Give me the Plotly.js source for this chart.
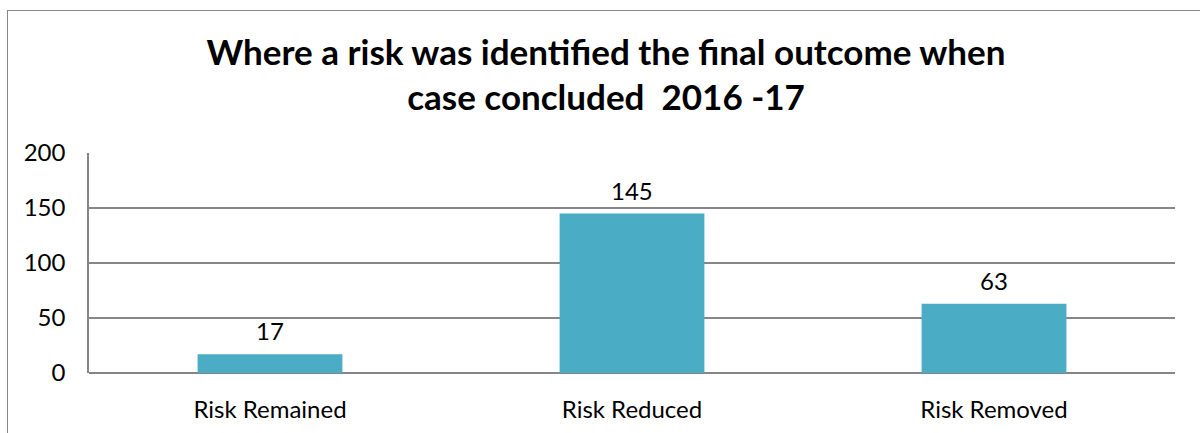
<!DOCTYPE html>
<html>
<head>
<meta charset="utf-8">
<script src="https://cdn.plot.ly/plotly-3.0.1.min.js"></script>
<style>
html,body{margin:0;padding:0;background:#fff}
#wrap{position:relative;width:1200px;height:433px;overflow:hidden}
#chart{width:1200px;height:433px}
#frame{position:absolute;left:7px;top:10px;width:1300px;height:600px;border:1.5px solid #878787;pointer-events:none;box-sizing:border-box}
</style>
</head>
<body>
<div id="wrap"><div id="chart"></div><div id="frame"></div></div>
<script>
var categories = ["Risk Remained", "Risk Reduced", "Risk Removed"];
var values = [17, 145, 63];
var yTicks = [0, 50, 100, 150, 200];

var FONT = "Lato, Calibri, 'Open Sans', sans-serif";

var trace = {
  type: "bar",
  x: categories,
  y: values,
  marker: {color: "#4BACC6"},
  hoverinfo: "x+y"
};

var annotations = categories.map(function (c, i) {
  return {
    x: c, y: values[i], xref: "x", yref: "y",
    text: String(values[i]), showarrow: false,
    yanchor: "bottom", yshift: 7,
    font: {family: FONT, size: 24, color: "#000"}
  };
});

var layout = {
  width: 1200, height: 433,
  margin: {l: 89, r: 25, t: 153, b: 60},
  paper_bgcolor: "#fff", plot_bgcolor: "#fff",
  bargap: 0.6,
  showlegend: false,
  title: {
    text: "<b>Where a risk was identified the final outcome when<br>case concluded  2016 -17</b>",
    font: {family: FONT, size: 35, color: "#000"},
    xref: "container", x: 0.505, xanchor: "center",
    yref: "container", y: 0.85, yanchor: "top"
  },
  xaxis: {
    type: "category",
    showgrid: false, zeroline: false,
    showline: false,
    ticks: "outside", ticklen: 15, tickcolor: "rgba(0,0,0,0)",
    tickfont: {family: FONT, size: 24, color: "#000"}
  },
  yaxis: {
    range: [0, 200],
    tickvals: yTicks,
    ticktext: yTicks.map(String),
    showgrid: true, gridcolor: "#868686", gridwidth: 1.5,
    zeroline: true, zerolinecolor: "#868686", zerolinewidth: 1.5,
    showline: true, linecolor: "#868686", linewidth: 1.5,
    ticks: "outside", ticklen: 17, tickcolor: "rgba(0,0,0,0)",
    tickfont: {family: FONT, size: 24, color: "#000"}
  },
  annotations: annotations
};

Plotly.newPlot("chart", [trace], layout, {displayModeBar: false, responsive: false});
</script>
</body>
</html>
